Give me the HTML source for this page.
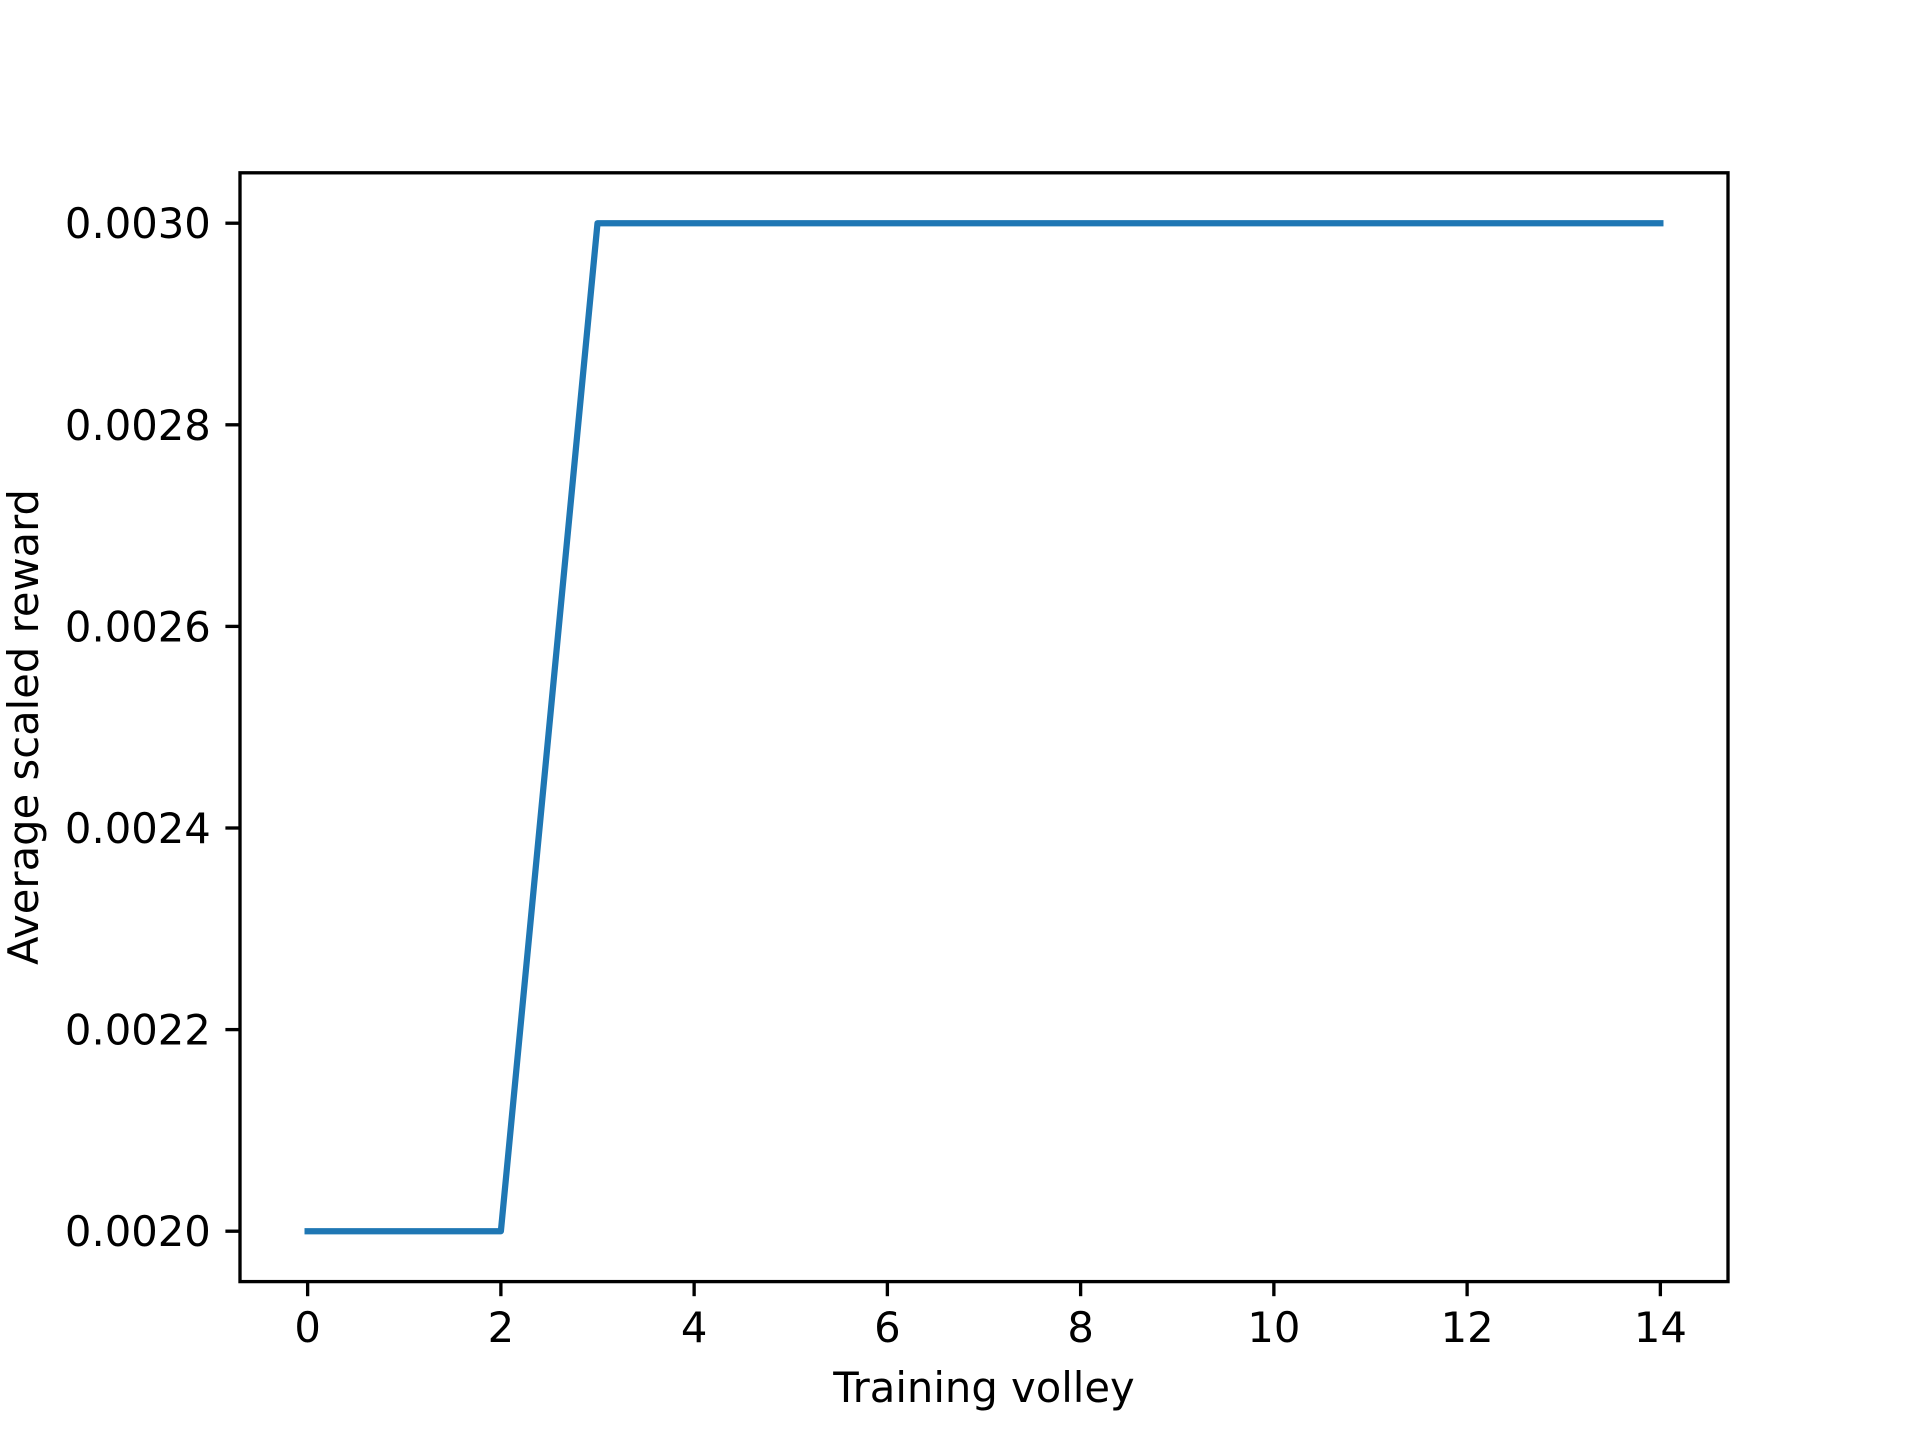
<!DOCTYPE html>
<html><head><meta charset="utf-8"><style>
html,body{margin:0;padding:0;background:#fff;}
svg text{font-family:"DejaVu Sans","Liberation Sans",sans-serif;font-size:41.7px;fill:#000;}
</style></head><body>
<svg id="chart" width="1920" height="1440" xmlns="http://www.w3.org/2000/svg">
<rect width="1920" height="1440" fill="#fff"/>
<g id="ticks"></g>
<polyline id="series" fill="none" stroke="#1f77b4" stroke-width="6.25" stroke-linejoin="round" stroke-linecap="square"/>
<rect x="240" y="172.8" width="1488" height="1108.8" fill="none" stroke="#000" stroke-width="3.33"/>
<text x="984" y="1402" text-anchor="middle">Training volley</text>
<text transform="translate(38,727) rotate(-90)" text-anchor="middle">Average scaled reward</text>
</svg>
<script>
const xValues = [0,1,2,3,4,5,6,7,8,9,10,11,12,13,14];
const rewards = [0.002,0.002,0.002,0.003,0.003,0.003,0.003,0.003,0.003,0.003,0.003,0.003,0.003,0.003,0.003];
const xTicks = [0,2,4,6,8,10,12,14];
const yTicks = [0.0020,0.0022,0.0024,0.0026,0.0028,0.0030];
const L=240,R=1728,T=172.8,B=1281.6;
const xmin=Math.min(...xValues),xmax=Math.max(...xValues);
const ymin=Math.min(...rewards),ymax=Math.max(...rewards);
const xp=(xmax-xmin)*0.05,yp=(ymax-ymin)*0.05;
const sx=v=>L+(v-(xmin-xp))/((xmax-xmin)+2*xp)*(R-L);
const sy=v=>B-(v-(ymin-yp))/((ymax-ymin)+2*yp)*(B-T);
const NS='http://www.w3.org/2000/svg';
const g=document.getElementById('ticks');
document.getElementById('series').setAttribute('points',xValues.map((x,i)=>sx(x)+','+sy(rewards[i])).join(' '));
xTicks.forEach(t=>{
  const l=document.createElementNS(NS,'line');
  l.setAttribute('x1',sx(t));l.setAttribute('x2',sx(t));l.setAttribute('y1',B);l.setAttribute('y2',B+14.6);
  l.setAttribute('stroke','#000');l.setAttribute('stroke-width','3.33');
  
  
  g.appendChild(l);
  const tx=document.createElementNS(NS,'text');
  tx.setAttribute('x',sx(t));tx.setAttribute('y',B+29.2+31);tx.setAttribute('text-anchor','middle');
  tx.textContent=t;
  
  
  g.appendChild(tx);
});
yTicks.forEach(t=>{
  const l=document.createElementNS(NS,'line');
  l.setAttribute('x1',L-14.6);l.setAttribute('x2',L);l.setAttribute('y1',sy(t));l.setAttribute('y2',sy(t));
  l.setAttribute('stroke','#000');l.setAttribute('stroke-width','3.33');
  
  
  g.appendChild(l);
  const tx=document.createElementNS(NS,'text');
  tx.setAttribute('x',L-29.2);tx.setAttribute('y',sy(t)+15);tx.setAttribute('text-anchor','end');
  tx.textContent=t.toFixed(4);
  
  
  g.appendChild(tx);
});
</script>
</body></html>
